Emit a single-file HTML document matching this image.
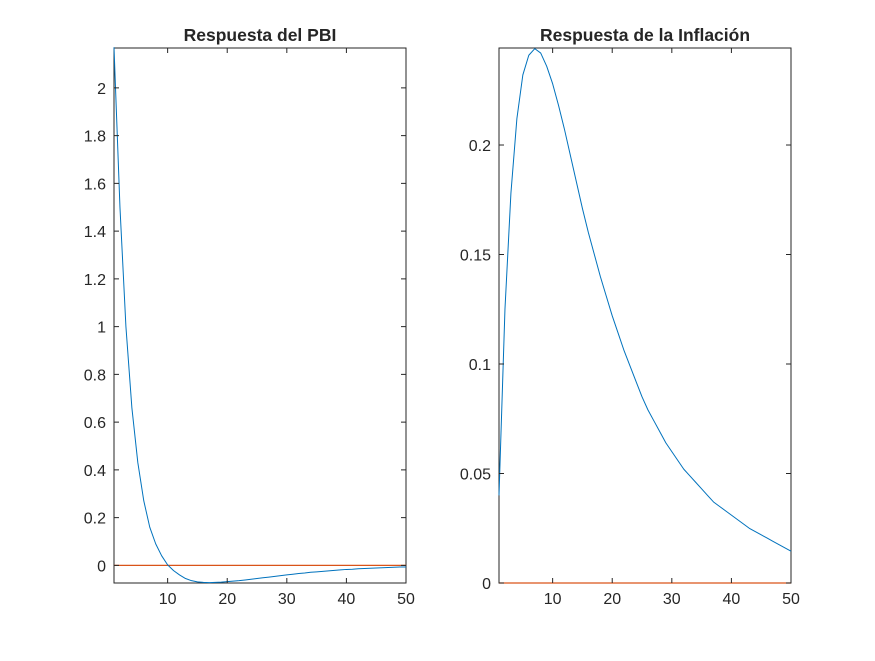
<!DOCTYPE html>
<html><head><meta charset="utf-8"><style>
body{margin:0;background:#fff;width:875px;height:656px;overflow:hidden}
svg text{font-family:"Liberation Sans",sans-serif;fill:#262626}
</style></head><body>
<svg id="fig" width="875" height="656" xmlns="http://www.w3.org/2000/svg"></svg>
<script>
const periods = Array.from({length:50},(_,i)=>i+1);
const pbi = [2.17,1.50,1.00,0.66,0.43,0.27,0.16,0.09,0.04,0.002,-0.022,-0.040,-0.055,-0.064,-0.069,-0.071,-0.072,-0.071,-0.070,-0.068,-0.066,-0.064,-0.061,-0.058,-0.055,-0.052,-0.049,-0.046,-0.043,-0.040,-0.037,-0.034,-0.032,-0.029,-0.027,-0.025,-0.023,-0.021,-0.019,-0.017,-0.016,-0.014,-0.013,-0.012,-0.011,-0.010,-0.009,-0.008,-0.007,-0.007];
const infl = [0.040,0.125,0.178,0.212,0.232,0.241,0.244,0.242,0.236,0.228,0.218,0.207,0.195,0.183,0.171,0.160,0.150,0.140,0.131,0.122,0.114,0.106,0.099,0.092,0.085,0.079,0.074,0.069,0.064,0.060,0.056,0.052,0.049,0.046,0.043,0.040,0.037,0.035,0.033,0.031,0.029,0.027,0.025,0.0235,0.022,0.0205,0.019,0.0175,0.016,0.0145];
const xTicks = [10,20,30,40,50];
const pbiTicks = [0,0.2,0.4,0.6,0.8,1,1.2,1.4,1.6,1.8,2];
const inflTicks = [0,0.05,0.1,0.15,0.2];
const NS="http://www.w3.org/2000/svg";
const svg=document.getElementById('fig');
function el(t,a,p){const e=document.createElementNS(NS,t);for(const k in a)e.setAttribute(k,a[k]);(p||svg).appendChild(e);return e;}
function panel(name,L,R,T,B,ymin,ymax,yt,series,title){
  const g=el('g',{});
  
  
  const sx=v=>L+(v-1)/49*(R-L), sy=v=>B-(v-ymin)/(ymax-ymin)*(B-T);
  const box=el('rect',{x:L,y:T,width:R-L,height:B-T,fill:'none',stroke:'#262626','stroke-width':1},g);
  
  
  const z=el('line',{x1:L,x2:R,y1:sy(0),y2:sy(0),stroke:'#D95319','stroke-width':1.3},g);
  
  
  const p=el('polyline',{points:periods.map((t,i)=>sx(t)+','+sy(series[i])).join(' '),fill:'none',stroke:'#0072BD','stroke-width':1,'stroke-linejoin':'round'},g);
  
  
  xTicks.forEach(v=>{const x=sx(v);
    el('line',{x1:x,x2:x,y1:B,y2:B-5,stroke:'#262626'},g);
    el('line',{x1:x,x2:x,y1:T,y2:T+5,stroke:'#262626'},g);
    const t=el('text',{x:x,y:B+21,'text-anchor':'middle','font-size':'16'},g);t.textContent=v;
    
    });
  yt.forEach(v=>{const y=sy(v);
    el('line',{x1:L,x2:L+5,y1:y,y2:y,stroke:'#262626'},g);
    el('line',{x1:R,x2:R-5,y1:y,y2:y,stroke:'#262626'},g);
    const t=el('text',{x:L-8,y:y+6,'text-anchor':'end','font-size':'16'},g);t.textContent=v;
    
    });
  const tt=el('text',{x:(L+R)/2,y:T-7,'text-anchor':'middle','font-size':'17.5','font-weight':'bold'},g);tt.textContent=title;
  
  
}
panel('pbi-panel',114,406,48,583,-0.0738,2.167,pbiTicks,pbi,'Respuesta del PBI');
panel('inflation-panel',499,791,48,583,0,0.2443,inflTicks,infl,'Respuesta de la Inflación');
</script>
</body></html>
